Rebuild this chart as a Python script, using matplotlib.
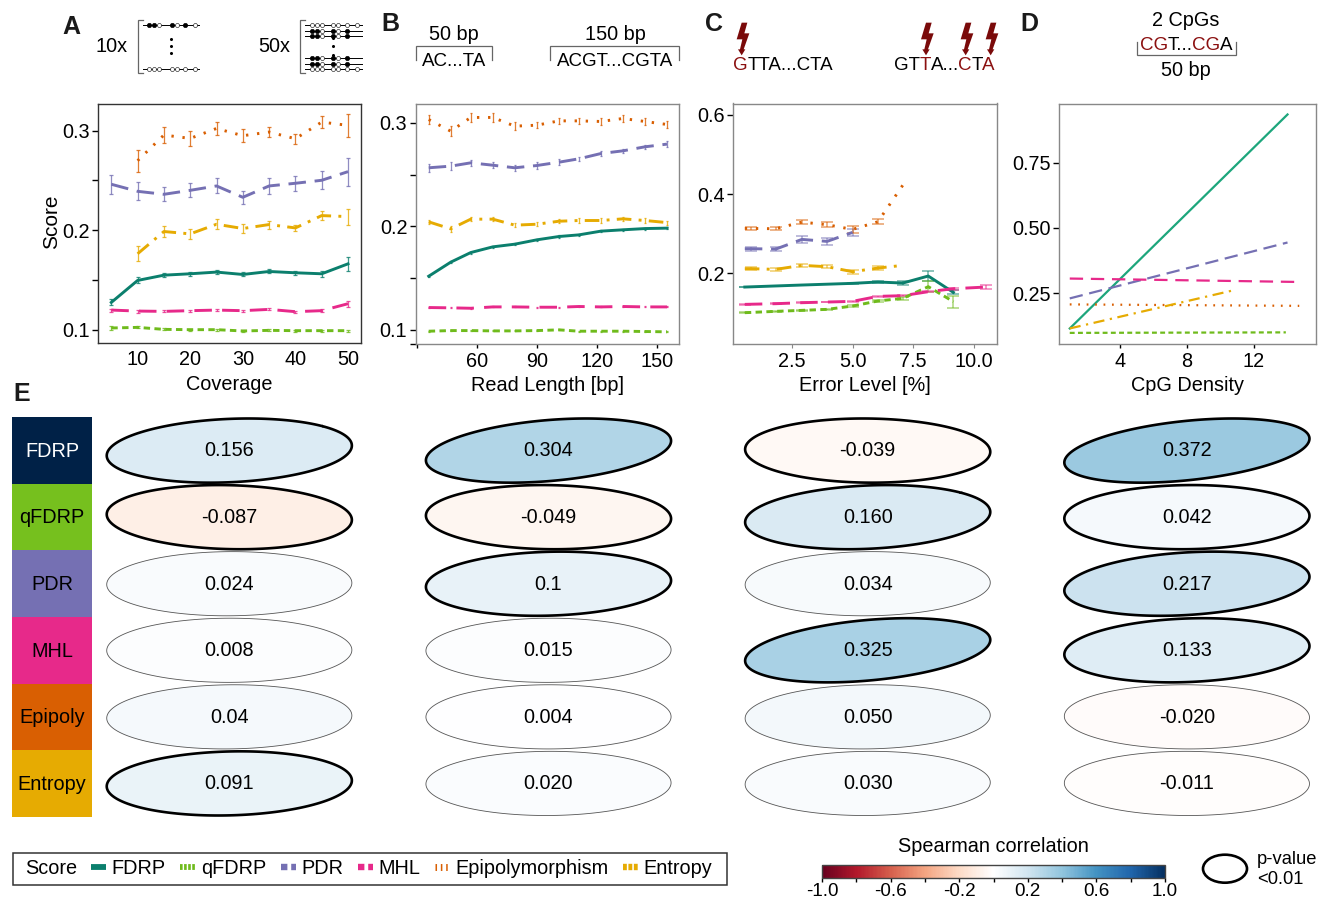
import numpy as np
import matplotlib
matplotlib.use("Agg")
import matplotlib.pyplot as plt
from matplotlib.lines import Line2D
from matplotlib.patches import Polygon, Rectangle, Ellipse
from matplotlib.cm import ScalarMappable
from matplotlib.colors import Normalize, LinearSegmentedColormap

plt.rcParams['font.family'] = ['Liberation Sans', 'DejaVu Sans']
plt.rcParams['axes.unicode_minus'] = False

W, H = 1318, 902
FS = 14.3
FS_SEQ = 13.5

# ---------- data ----------
scores = ["FDRP", "qFDRP", "PDR", "MHL", "Epipolymorphism", "Entropy"]
row_labels = ["FDRP", "qFDRP", "PDR", "MHL", "Epipoly", "Entropy"]

cov_x = [5, 10, 15, 20, 25, 30, 35, 40, 45, 50]
cov_x9 = [10, 15, 20, 25, 30, 35, 40, 45, 50]
cov_fdrp = [.1274, .1495, .1548, .1562, .1579, .1555, .1585, .1572, .1562, .1662]
cov_fdrp_e = [.003, .003, .002, .002, .002, .002, .002, .002, .003, .007]
cov_qfdrp = [.1017, .1023, .1003, .1, .1, .0987, .0993, .099, .099, .099]
cov_qfdrp_e = [.002, .001, .001, .001, .001, .001, .001, .001, .001, .001]
cov_pdr = [.2462, .2391, .2361, .2401, .2445, .2331, .2445, .2472, .2502, .2589]
cov_pdr_e = [.0097, .009, .0072, .007, .0075, .0064, .0077, .0077, .009, .014]
cov_mhl = [.1197, .1187, .1184, .1191, .1197, .1191, .1204, .1181, .1191, .1261]
cov_mhl_e = [.0015, .0015, .001, .001, .001, .001, .001, .001, .0015, .003]
cov_epi = [.2699, .2957, .2923, .3023, .295, .2987, .292, .3087, .3054]
cov_epi_e = [.011, .0084, .0075, .0067, .0067, .005, .005, .0062, .0114]
cov_ent = [.1763, .1987, .1963, .206, .2017, .2057, .2023, .2147, .2137]
cov_ent_e = [.0075, .0057, .005, .005, .0047, .004, .0033, .0047, .008]

len_x = [36, 47, 57, 68, 79, 90, 101, 111, 122, 133, 144, 155]
len_fdrp = [.1516, .1652, .1745, .18, .1826, .1868, .19, .1916, .1952, .1965, .1977, .1981]
len_fdrp_e = [.001] * 12
len_qfdrp = [.0984, .099, .099, .0987, .0987, .099, .0997, .0984, .0984, .0984, .0981, .0978]
len_qfdrp_e = [.0005] * 12
len_pdr = [.2565, .2581, .2613, .259, .2565, .2587, .2619, .2652, .2703, .2729, .2768, .2794]
len_pdr_e = [.004, .004, .003, .003, .003, .003, .003, .002, .002, .002, .002, .003]
len_mhl = [.1213, .121, .1206, .1219, .1219, .1216, .1216, .1223, .1219, .1223, .1219, .1219]
len_mhl_e = [.0005] * 12
len_epi = [.3032, .2919, .3052, .3052, .2968, .2977, .3019, .3019, .3013, .3042, .3013, .2984]
len_epi_e = [.004, .005, .004, .004, .004, .003, .003, .003, .003, .003, .003, .003]
len_ent = [.2042, .1974, .2068, .2068, .201, .2019, .2048, .2055, .2055, .2071, .2055, .2035]
len_ent_e = [.002, .003, .002, .002, .002, .002, .002, .002, .002, .002, .002, .002]

err_x_fdrp = [0.55, 2.91, 5.0, 6.05, 7.08, 8.13, 9.17]
err_fdrp = [.1655, .1706, .1748, .1782, .1756, .1933, .152]
err_fdrp_e = [.001, .001, .002, .003, .006, .012, .005]
err_x_qfdrp = [0.55, 1.83, 2.91, 3.95, 5.0, 6.05, 7.08, 8.13, 9.17]
err_qfdrp = [.1008, .1042, .1067, .1092, .1176, .1303, .137, .1664, .1286]
err_qfdrp_e = [.001, .001, .001, .001, .002, .003, .003, .014, .015]
err_x_pdr = [0.55, 0.82, 1.83, 2.91, 3.95, 5.0]
err_pdr = [.2622, .2622, .2613, .2857, .2807, .3034]
err_pdr_e = [0, .005, .006, .008, .008, .008]
err_x_mhl = [0.55, 1.83, 2.91, 3.95, 5.0, 6.05, 7.08, 8.13, 9.17, 10.5]
err_mhl = [.1218, .1235, .126, .1277, .1294, .142, .1437, .1538, .1613, .1655]
err_mhl_e = [.001, .001, .001, .001, .001, .002, .002, .002, .002, .004]
err_x_epi = [0.55, 0.82, 1.83, 2.91, 3.95, 5.0, 6.05, 7.08]
err_epi = [.3134, .3134, .3126, .3294, .3227, .3109, .3303, .4227]
err_epi_e = [0, .004, .004, .005, .006, .008, .006, 0]
err_x_ent = [0.55, 0.82, 1.83, 2.91, 3.95, 5.0, 6.05, 7.08]
err_ent = [.2118, .2118, .2101, .2202, .2168, .2042, .2134, .2202]
err_ent_e = [0, .004, .003, .004, .004, .005, .004, 0]

den_fdrp_x, den_fdrp = [1, 14], [.115, .934]
den_qfdrp_x, den_qfdrp = [1, 13.9], [.098, .1]
den_pdr_x, den_pdr = [1, 14], [.23, .444]
den_mhl_x, den_mhl = [1, 14.6], [.306, .293]
den_epi_x, den_epi = [1, 14.7], [.207, .2015]
den_ent_x, den_ent = [1, 10.77], [.115, .261]

corr_cov = ["0.156", "-0.087", "0.024", "0.008", "0.04", "0.091"]
corr_len = ["0.304", "-0.049", "0.1", "0.015", "0.004", "0.020"]
corr_err = ["-0.039", "0.160", "0.034", "0.325", "0.050", "0.030"]
corr_den = ["0.372", "0.042", "0.217", "0.133", "-0.020", "-0.011"]
sig_cov = [1, 1, 0, 0, 0, 1]
sig_len = [1, 1, 1, 0, 0, 0]
sig_err = [1, 1, 0, 1, 0, 0]
sig_den = [1, 1, 1, 1, 0, 0]

# ---------- styles ----------
C_FDRP, C_Q, C_PDR, C_MHL, C_EPI, C_ENT = '#0b7f6d', '#6fbb1c', '#7570B3', '#E7298A', '#D95F02', '#E6AB02'
colors = [C_FDRP, C_Q, C_PDR, C_MHL, C_EPI, C_ENT]
box_colors = ['#002147', '#76c01e', '#7570B3', '#E7298A', '#D95F02', '#E6AB02']
styles = ['-', (0, (2.2, 1.5)), (0, (6, 3)), (0, (6, 3.5)), (0, (0.8, 3.0)), (0, (5, 2.5, 1, 2.5))]
cmap_colors = ['#67001f', '#b2182b', '#d6604d', '#f4a582', '#fddbc7', '#ffffff',
               '#d1e5f0', '#92c5de', '#4393c3', '#2166ac', '#053061']

fig = plt.figure(figsize=(W / 100, H / 100), dpi=100, facecolor='white')


def px_axes(l, t, r, b, **kw):
    return fig.add_axes([l / W, 1 - b / H, (r - l) / W, (b - t) / H], **kw)


def series(ax, x, y, e, i, cap, ealpha=0.8, lw=2.1, ew=0.9):
    x, y, e = np.array(x), np.array(y), np.array(e)
    ax.plot(x, y, color=colors[i], ls=styles[i], lw=lw, zorder=3, dash_capstyle='butt')
    m = e > 0
    ax.errorbar(x[m], y[m], yerr=e[m], fmt='none', ecolor=colors[i], elinewidth=ew,
                capsize=cap, capthick=ew, alpha=ealpha, zorder=2)


def frame(ax, color, lw=1.0):
    for s in ax.spines.values():
        s.set_color(color)
        s.set_linewidth(lw)


# Panel A
axA = px_axes(98, 103.5, 361, 343)
for i, (x, y, e) in enumerate([(cov_x, cov_fdrp, cov_fdrp_e), (cov_x, cov_qfdrp, cov_qfdrp_e),
                               (cov_x, cov_pdr, cov_pdr_e), (cov_x, cov_mhl, cov_mhl_e),
                               (cov_x9, cov_epi, cov_epi_e), (cov_x9, cov_ent, cov_ent_e)]):
    series(axA, x, y, e, i, 1.2)
axA.set_xlim(2.47, 52.47)
axA.set_ylim(.0866, .3274)
axA.set_xticks([10, 20, 30, 40, 50])
axA.set_yticks([.1, .15, .2, .25, .3])
axA.set_yticklabels(['0.1', '', '0.2', '', '0.3'])
axA.tick_params(axis='x', length=0, labelsize=FS, pad=5)
axA.tick_params(axis='y', length=4, width=1, labelsize=FS, pad=2)
axA.set_xlabel('Coverage', fontsize=FS)
axA.xaxis.set_label_coords(.5, -.135)
axA.set_ylabel('Score', fontsize=15)
axA.yaxis.set_label_coords(-.14, .505)
frame(axA, '#333333', 1.0)

# Panel B
axB = px_axes(415.7, 103.5, 679, 343.5)
for i, (y, e) in enumerate([(len_fdrp, len_fdrp_e), (len_qfdrp, len_qfdrp_e), (len_pdr, len_pdr_e),
                            (len_mhl, len_mhl_e), (len_epi, len_epi_e), (len_ent, len_ent_e)]):
    series(axB, len_x, y, e, i, 1.0)
axB.set_xlim(29.5, 161)
axB.set_ylim(.0865, .3187)
axB.set_xticks([30, 60, 90, 120, 150])
axB.set_xticklabels(['', '60', '90', '120', '150'])
axB.set_yticks([.0865, .1, .15, .2, .25, .3])
axB.set_yticklabels(['', '0.1', '', '0.2', '', '0.3'])
axB.tick_params(axis='x', length=3, width=1, labelsize=FS, pad=3)
axB.tick_params(axis='y', length=4, width=1, labelsize=FS, pad=2)
axB.set_xlabel('Read Length [bp]', fontsize=FS)
axB.xaxis.set_label_coords(.5, -.135)
frame(axB, '#888888')

# Panel C
axC = px_axes(733, 103.5, 997, 344)
for i, (x, y, e) in enumerate([(err_x_fdrp, err_fdrp, err_fdrp_e), (err_x_qfdrp, err_qfdrp, err_qfdrp_e),
                               (err_x_pdr, err_pdr, err_pdr_e), (err_x_mhl, err_mhl, err_mhl_e),
                               (err_x_epi, err_epi, err_epi_e), (err_x_ent, err_ent, err_ent_e)]):
    series(axC, x, y, e, i, 4.6, ealpha=0.55, ew=1.2)
axC.set_xlim(.062, 10.97)
axC.set_ylim(.0218, .6286)
axC.set_xticks([2.5, 5, 7.5, 10])
axC.set_xticklabels(['2.5', '5.0', '7.5', '10.0'])
axC.set_yticks([.2, .4, .6])
axC.set_yticklabels(['0.2', '0.4', '0.6'])
axC.tick_params(axis='x', length=3, width=.8, color='#888888', labelsize=FS, pad=3)
axC.tick_params(axis='y', length=4, width=1, labelsize=FS, pad=2)
axC.set_xlabel('Error Level [%]', fontsize=FS)
axC.xaxis.set_label_coords(.5, -.135)
frame(axC, '#888888')

# Panel D
axD = px_axes(1058.7, 103.5, 1316, 343.5)
den = [(den_fdrp_x, den_fdrp), (den_qfdrp_x, den_qfdrp), (den_pdr_x, den_pdr),
       (den_mhl_x, den_mhl), (den_epi_x, den_epi), (den_ent_x, den_ent)]
for i, (x, y) in enumerate(den):
    c = '#1da67c' if i == 0 else colors[i]
    axD.plot(x, y, color=c, ls=styles[i], lw=1.6, zorder=3, dash_capstyle='butt')
axD.set_xlim(.34, 15.7)
axD.set_ylim(.0574, .976)
axD.set_xticks([4, 8, 12])
axD.set_yticks([.25, .5, .75])
axD.set_yticklabels(['0.25', '0.50', '0.75'])
axD.tick_params(axis='x', length=3, width=1, labelsize=FS, pad=3)
axD.tick_params(axis='y', length=4, width=1, labelsize=FS, pad=2)
axD.set_xlabel('CpG Density', fontsize=FS)
axD.xaxis.set_label_coords(.5, -.135)
frame(axD, '#888888')

# Panel E: correlation ellipses
PITCH_X = 319.2
axE = px_axes(69.7, 417.3, W, 816.7)
axE.set_xlim(-.5, (W - 229.3) / PITCH_X)
axE.set_ylim(5.5, -.5)
axE.axis('off')
cmap = LinearSegmentedColormap.from_list('RdWhBu', cmap_colors)
norm = Normalize(-1, 1)
t = np.linspace(0, 2 * np.pi, 200)
for c, (vals, sig) in enumerate([(corr_cov, sig_cov), (corr_len, sig_len), (corr_err, sig_err), (corr_den, sig_den)]):
    for r, (v, s) in enumerate(zip(vals, sig)):
        rho = float(v)
        d = np.arccos(rho)
        ex = c + .384 * np.cos(t + d / 2)
        ey = r - .482 * np.cos(t - d / 2)
        axE.add_patch(Polygon(np.c_[ex, ey], closed=True, facecolor=cmap(norm(rho)),
                              edgecolor='black' if s else '#555555', lw=1.9 if s else .6,
                              clip_on=False, zorder=3 if s else 2))
        axE.text(c, r + .005, v, ha='center', va='center', fontsize=FS, zorder=5)

axR = px_axes(12.3, 417.3, 91.7, 816.7)
axR.set_xlim(0, 1)
axR.set_ylim(5.5, -.5)
axR.axis('off')
axR.barh(range(6), [1] * 6, height=1, color=box_colors)
for r, lab in enumerate(row_labels):
    axR.text(.5, r + .012, lab, ha='center', va='center', fontsize=FS, color='white' if r == 0 else 'black')

# Colour bar
cax = px_axes(822, 865, 1165, 878)
cb = fig.colorbar(ScalarMappable(norm=norm, cmap=cmap), cax=cax, orientation='horizontal')
cb.set_ticks([-1, -.8, -.6, -.4, -.2, 0, .2, .4, .6, .8, 1])
cb.set_ticklabels(['-1.0', '', '-0.6', '', '-0.2', '', '0.2', '', '0.6', '', '1.0'])
cb.ax.tick_params(length=3, width=1, labelsize=13.6, pad=0.5)
cb.outline.set_edgecolor('#444444')
cb.outline.set_linewidth(1)

# Overlay in pixel coordinates for schematics and captions
ov = fig.add_axes([0, 0, 1, 1], zorder=10)
ov.set_xlim(0, W)
ov.set_ylim(H, 0)
ov.axis('off')
ov.patch.set_alpha(0)


def txt(x, y, s, **kw):
    kw.setdefault('fontsize', FS)
    kw.setdefault('ha', 'center')
    kw.setdefault('va', 'center')
    return ov.text(x, y, s, **kw)


for lab, x, y in [('A', 71, 27), ('B', 390, 24), ('C', 714, 24), ('D', 1029, 24), ('E', 22, 394)]:
    txt(x, y, lab, fontsize=18, fontweight='bold', color='#1a1a1a')

GREY = '#666666'


def bracket_left(x0, x1, y0, y1):
    ov.plot([x1, x0, x0, x1], [y0, y0, y1, y1], color=GREY, lw=.9, solid_joinstyle='miter')


def read_row(xs, y, pattern, lstart, lend):
    ov.plot([lstart, lend], [y, y], color='black', lw=.7, zorder=1)
    for x, ch in zip(xs, pattern):
        if ch == '-':
            continue
        ov.plot([x], [y], 'o', ms=2.9 if ch == 'o' else 3.2, mfc='white' if ch == 'o' else 'black',
                mec='black', mew=.4, zorder=2)


# A schematics
txt(112, 46.5, '10x')
bracket_left(138, 143, 20.3, 73)
xs10 = 90 + np.array([178, 192, 208, 245, 262, 286, 315]) / 3
read_row(xs10, 25, 'xxoxoxo', 143, 199)
read_row(xs10, 69.3, 'ooooooo', 143, 199)
ov.plot([171, 171, 171], [39, 46, 53], 'o', ms=1.2, color='black')
txt(274, 46.5, '50x')
bracket_left(300, 305, 20.3, 73)
xs50 = 90 + np.array([665, 680, 695, 730, 745, 772, 800]) / 3
for yz, pat in [(60, 'ooooooo'), (77, 'xxoxox-'), (93, 'xxoxox-'), (158, 'xxoxox-'), (176, 'xxoxox-'), (193, 'ooooooo')]:
    read_row(xs50, 5 + yz / 3, pat, 305, 362)
ov.plot([333, 333, 333], [38, 46, 55], 'o', ms=1.2, color='black')


def bracket_top(x0, x1, y0, y1):
    ov.plot([x0, x0, x1, x1], [y1, y0, y0, y1], color=GREY, lw=.9, solid_joinstyle='miter')


# B schematics
txt(454, 34, '50 bp')
bracket_top(415.7, 492.3, 45.7, 60)
txt(454, 61.3, 'AC...TA', fontsize=FS_SEQ)
txt(615, 34, '150 bp')
bracket_top(550.3, 679.3, 45.7, 60)
txt(615, 61.3, 'ACGT...CGTA', fontsize=FS_SEQ)

RED = '#8B1010'
rend = fig.canvas.get_renderer()


def coloured(x, y, parts, center=False):
    pieces = [txt(x, y, s, color=c, ha='left', fontsize=FS_SEQ) for s, c in parts]
    widths = [p.get_window_extent(rend).width - .5 for p in pieces]
    cur = x - sum(widths) / 2 if center else x
    for p, w in zip(pieces, widths):
        p.set_x(cur)
        cur += w


coloured(733, 65.5, [('G', RED), ('TTA...CTA', 'black')])
coloured(894.3, 65.5, [('GT', 'black'), ('T', RED), ('A...', 'black'), ('C', RED), ('T', 'black'), ('A', RED)])

bolt = np.array([(155, 68), (172, 68), (163, 100), (178, 100), (161, 148), (166, 148), (155, 166),
                 (144, 148), (150, 148), (157, 118), (140, 118)], float)
for dx in [0, 553, 672, 747]:
    pts = np.c_[690 + (bolt[:, 0] + dx) / 3, bolt[:, 1] / 3]
    ov.add_patch(Polygon(pts, closed=True, facecolor='#7a0a0a', edgecolor='none'))

# D schematics
txt(1186, 20, '2 CpGs')
coloured(1186, 46, [('CG', RED), ('T...', 'black'), ('CG', RED), ('A', 'black')], center=True)
ov.plot([1136.7, 1136.7, 1236.3, 1236.3], [41.7, 55, 55, 41.7], color=GREY, lw=.9, solid_joinstyle='miter')
txt(1186, 70.7, '50 bp')

# Legend
ov.add_patch(Rectangle((13, 853), 714, 32, facecolor='white', edgecolor='#333333', lw=1.1))
txt(25, 868.5, 'Score', ha='left')
key_dashes = ['-', (0, (.45, .25)), (0, (1.0, .6)), (0, (1.0, .6)), (0, (.22, .55)), (0, (.6, .25, .6, .25))]
key_lw = [4.2, 4.2, 4.6, 4.6, 5, 4.6]
handles = [Line2D([], [], color=c, ls=ls, lw=w, dash_capstyle='butt', solid_capstyle='butt')
           for c, ls, w in zip(colors, key_dashes, key_lw)]
leg = fig.legend(handles, scores, loc='center left', bbox_to_anchor=(91 / W, 1 - 868.5 / H), ncol=6,
                 frameon=False, fontsize=FS, borderpad=0, borderaxespad=0, handlelength=.78,
                 handletextpad=.25, columnspacing=.74, handleheight=.7)
leg.set_zorder(20)

txt(993, 846, 'Spearman correlation')
ov.add_patch(Ellipse((1225, 868.7), 44, 28, facecolor='white', edgecolor='black', lw=1.9))
txt(1257, 860, 'p-value', ha='left', fontsize=13.2)
txt(1257, 880, '<0.01', ha='left', fontsize=13.2)

fig.savefig('out.png', dpi=100, facecolor='white')
